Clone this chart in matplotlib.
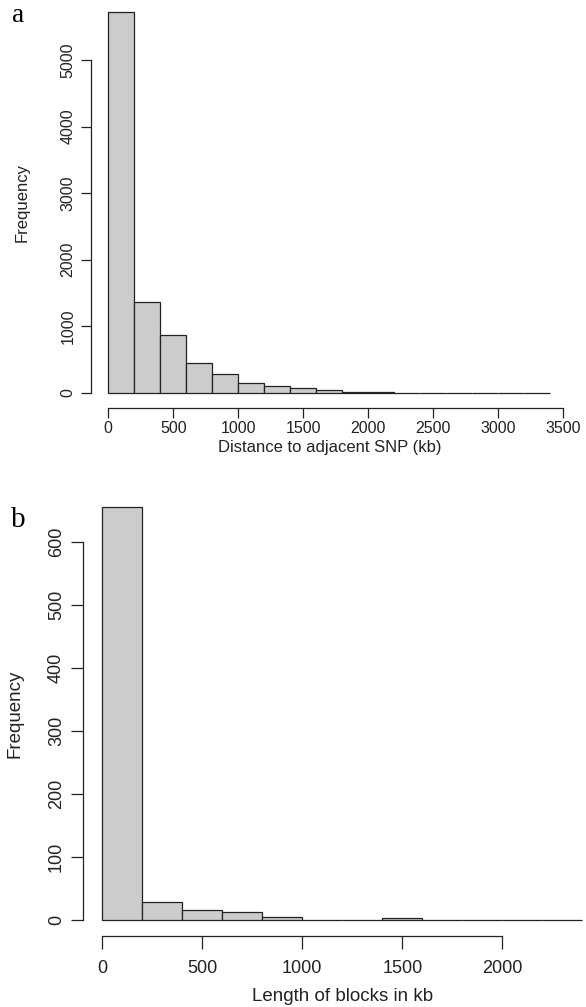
import matplotlib
matplotlib.use("Agg")
import matplotlib.pyplot as plt
import numpy as np

# ---- data ----
# panel a: distance to adjacent SNP (kb), bins of 200 kb
a_breaks = list(range(0, 3600, 200))
a_counts = [5720, 1360, 875, 450, 280, 155, 105, 75, 40, 15, 12, 4, 2, 1, 1, 0, 1]
a_xticks = [0, 500, 1000, 1500, 2000, 2500, 3000, 3500]
a_yticks = [0, 1000, 2000, 3000, 4000, 5000]

# panel b: length of blocks (kb), bins of 200 kb
b_breaks = list(range(0, 2600, 200))
b_counts = [655, 28, 15, 13, 5, 0, 0, 2, 0, 0, 0, 0]
b_xticks = [0, 500, 1000, 1500, 2000]
b_yticks = [0, 100, 200, 300, 400, 500, 600]

W, H = 586, 1007
fig = plt.figure(figsize=(W / 100, H / 100), dpi=100)
plt.rcParams['font.family'] = ['Liberation Sans', 'DejaVu Sans']

def ax_px(l, t, r, b):
    return fig.add_axes([l / W, 1 - b / H, (r - l) / W, (b - t) / H])

FILL = '#CCCCCC'
EDGE = '#222222'

def hist_panel(ax, breaks, counts, xticks, yticks, xlabel, letter, lx, ly,
               fs, ticklen, xpad, xlpad, ylpad):
    left = breaks[:-1]
    ax.bar(left, counts, width=200, align='edge', color=FILL, edgecolor=EDGE,
           linewidth=0.9)
    rng = breaks[-1] - breaks[0]
    ax.set_xlim(breaks[0] - 0.04 * rng, breaks[-1] + 0.04 * rng)
    ymax = max(counts)
    ax.set_ylim(-0.04 * ymax, 1.04 * ymax)
    for s in ['top', 'right']:
        ax.spines[s].set_visible(False)
    ax.spines['left'].set_bounds(yticks[0], yticks[-1])
    ax.spines['bottom'].set_bounds(xticks[0], xticks[-1])
    for s in ['left', 'bottom']:
        ax.spines[s].set_linewidth(0.9)
        ax.spines[s].set_color('#222222')
    ax.set_xticks(xticks)
    ax.set_yticks(yticks)
    ax.tick_params(direction='out', length=ticklen, width=0.9, colors='#222222',
                   labelsize=fs)
    ax.tick_params(axis='x', pad=xpad)
    ax.tick_params(axis='y', labelrotation=90, pad=4)
    for t in ax.get_yticklabels():
        t.set_va('center')
    ax.set_xlabel(xlabel, fontsize=fs + 0.5, labelpad=xlpad, color='#222222')
    ax.set_ylabel('Frequency', fontsize=fs + 0.5, labelpad=ylpad, color='#222222')
    fig.text(lx / W, 1 - ly / H, letter, fontsize=fs + 8, family='Liberation Serif',
             ha='center', va='center')

ax1 = ax_px(90.6, -3.2, 568.0, 408.2)
hist_panel(ax1, a_breaks, a_counts, a_xticks, a_yticks,
           'Distance to adjacent SNP (kb)', 'a', 18, 16, 11.5, 7, 2, 3, 22)

ax2 = ax_px(83.1, 490.5, 601.5, 936.2)
hist_panel(ax2, b_breaks, b_counts, b_xticks, b_yticks,
           'Length of blocks in kb', 'b', 18, 520, 13, 9, 8, 8, 18)

fig.savefig('out.png', dpi=100)
